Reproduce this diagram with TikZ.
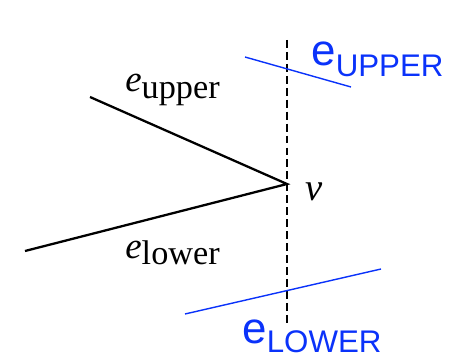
\documentclass[tikz,border=0pt]{standalone}
\usepackage{fontspec}
\setmainfont{Liberation Serif}
\newfontfamily\labelsans{Liberation Sans}
\definecolor{markblue}{RGB}{10,50,250}

\tikzset{
  edge/.style={line width=1.3pt},
  sweep/.style={line width=1.1pt,dash pattern=on 4.5pt off 2.3pt},
  bound/.style={markblue,line width=0.8pt},
  lbl/.style={anchor=base west,inner sep=0pt},
}

\begin{document}
\begin{tikzpicture}[x=0.02cm,y=-0.02cm]
  \useasboundingbox (0,0) rectangle (450,358);
  % sweep line through the vertex
  \coordinate (top) at (287,40);
  \coordinate (bot) at (287,323);
  \draw[sweep] (top) -- (bot);
  % the two edges meeting at v
  \coordinate (v) at (287,184);
  \coordinate (up) at (90,97);
  \coordinate (lo) at (25,251);
  \draw[edge] (up) -- (v) -- (lo);
  \node[lbl] (vname) at (305,200) {\fontsize{22}{22}\selectfont\itshape v};
  \node[lbl] (upname) at (125,92) {\fontsize{21}{21}\selectfont\itshape e\raisebox{-0.14cm}{\upshape\fontsize{19.5}{20}\selectfont upper}};
  \node[lbl] (loname) at (125,258) {\fontsize{21}{21}\selectfont\itshape e\raisebox{-0.14cm}{\upshape\fontsize{19.5}{20}\selectfont lower}};
  % blue marks
  \coordinate (ua) at (245,57);
  \coordinate (ub) at (351,87);
  \coordinate (la) at (185,314);
  \coordinate (lb) at (381,269);
  \draw[bound] (ua) -- (ub);
  \draw[bound] (la) -- (lb);
  \node[lbl,text=markblue] (UP) at (311,66) {\labelsans\fontsize{25}{25}\selectfont e\raisebox{-0.22cm}{\fontsize{17.8}{18}\selectfont UPPER}};
  \node[lbl,text=markblue] (LO) at (242,343) {\labelsans\fontsize{25}{25}\selectfont e\raisebox{-0.2cm}{\fontsize{17.8}{18}\selectfont LOWER}};
\end{tikzpicture}
\end{document}
